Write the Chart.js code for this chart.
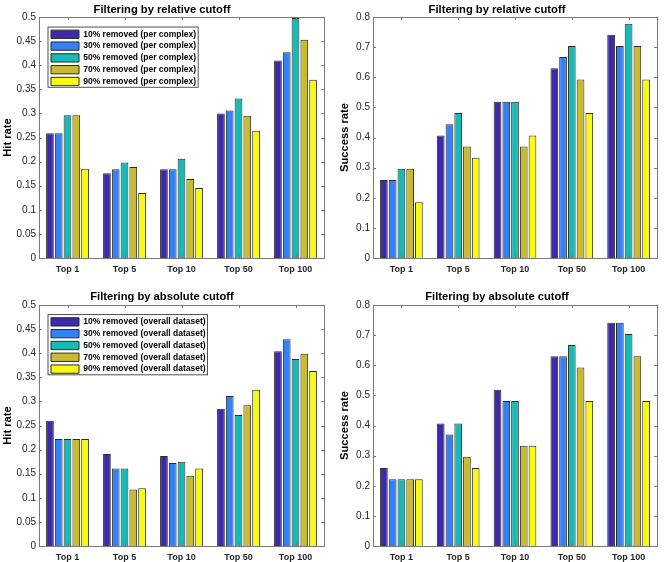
<!DOCTYPE html>
<html lang="en">
<head>
<meta charset="UTF-8">
<script src="https://cdn.jsdelivr.net/npm/chart.js"></script>
<title>Filtering by cutoff</title>
<style>
  body { margin: 0; background: #fff; }
  .cell { position: absolute; width: 332px; height: 281px; }
</style>
</head>
<body>
<div class="cell" style="left:0;top:0"><canvas id="relHitChart"></canvas></div>
<div class="cell" style="left:332px;top:0"><canvas id="relSuccessChart"></canvas></div>
<div class="cell" style="left:0;top:281px"><canvas id="absHitChart"></canvas></div>
<div class="cell" style="left:332px;top:281px"><canvas id="absSuccessChart"></canvas></div>
<script>
// data
const categories = ['Top 1', 'Top 5', 'Top 10', 'Top 50', 'Top 100'];
const removedLevels = ['10%', '30%', '50%', '70%', '90%'];
const colors = ['#3d2aa9', '#3381f5', '#17bab5', '#c8bb2e', '#f9f911'];

const hitTicks = [0, 0.05, 0.1, 0.15, 0.2, 0.25, 0.3, 0.35, 0.4, 0.45, 0.5];
const successTicks = [0, 0.1, 0.2, 0.3, 0.4, 0.5, 0.6, 0.7, 0.8];

// relative cutoff, hit rate
const relHit10 = [0.259, 0.176, 0.184, 0.300, 0.410];
const relHit30 = [0.259, 0.184, 0.184, 0.306, 0.427];
const relHit50 = [0.296, 0.198, 0.206, 0.331, 0.498];
const relHit70 = [0.296, 0.189, 0.164, 0.295, 0.453];
const relHit90 = [0.185, 0.135, 0.145, 0.264, 0.370];

// relative cutoff, success rate
const relSuccess10 = [0.259, 0.407, 0.519, 0.630, 0.741];
const relSuccess30 = [0.259, 0.444, 0.519, 0.667, 0.704];
const relSuccess50 = [0.296, 0.481, 0.519, 0.704, 0.778];
const relSuccess70 = [0.296, 0.370, 0.370, 0.593, 0.704];
const relSuccess90 = [0.185, 0.333, 0.407, 0.481, 0.593];

// absolute cutoff, hit rate
const absHit10 = [0.260, 0.191, 0.187, 0.285, 0.404];
const absHit30 = [0.222, 0.161, 0.172, 0.311, 0.429];
const absHit50 = [0.222, 0.161, 0.175, 0.272, 0.388];
const absHit70 = [0.222, 0.117, 0.146, 0.292, 0.399];
const absHit90 = [0.222, 0.120, 0.161, 0.324, 0.363];

// absolute cutoff, success rate
const absSuccess10 = [0.259, 0.407, 0.519, 0.630, 0.741];
const absSuccess30 = [0.222, 0.370, 0.481, 0.630, 0.741];
const absSuccess50 = [0.222, 0.407, 0.481, 0.667, 0.704];
const absSuccess70 = [0.222, 0.296, 0.333, 0.593, 0.630];
const absSuccess90 = [0.222, 0.259, 0.333, 0.481, 0.481];

const FONT = '"Liberation Sans", Arial, Helvetica, sans-serif';
const AXIS_COLOR = '#7a7a7a';
const TEXT_COLOR = '#262626';

// matlab style box with inward ticks, plus a framed legend
const boxPlugin = {
  id: 'matlabBox',
  afterLayout(chart) {
    const lg = chart.legend;
    const off = chart.options.plugins.matlabBox;
    if (lg && off) {
      const a = chart.chartArea;
      lg.left = a.left + off.legendX;
      lg.top = a.top + off.legendY;
      lg.bottom = a.bottom;
      lg.right = a.right;
    }
  },
  beforeDraw(chart) {
    const lg = chart.legend;
    if (!lg || !lg.options.display || !lg.legendHitBoxes || !lg.legendHitBoxes.length) return;
    const hb = lg.legendHitBoxes;
    let l = Infinity, t = Infinity, r = -Infinity, b = -Infinity;
    hb.forEach(h => {
      l = Math.min(l, h.left); t = Math.min(t, h.top);
      r = Math.max(r, h.left + h.width); b = Math.max(b, h.top + h.height);
    });
    const ctx = chart.ctx;
    ctx.save();
    ctx.fillStyle = '#fff';
    ctx.strokeStyle = '#262626';
    ctx.lineWidth = 0.8;
    ctx.fillRect(l - 3, t - 3, r - l + 5, b - t + 4.5);
    ctx.strokeRect(l - 3, t - 3, r - l + 5, b - t + 4.5);
    ctx.restore();
  },
  afterDatasetsDraw(chart) {
    const {ctx, chartArea: a, scales: {x, y}} = chart;
    const len = 3;
    ctx.save();
    ctx.strokeStyle = AXIS_COLOR;
    ctx.lineWidth = 1;
    ctx.beginPath();
    y.ticks.forEach(tk => {
      const py = Math.round(y.getPixelForValue(tk.value)) + 0.5;
      ctx.moveTo(a.left, py); ctx.lineTo(a.left + len, py);
      ctx.moveTo(a.right, py); ctx.lineTo(a.right - len, py);
    });
    x.ticks.forEach((tk, i) => {
      const px = Math.round(x.getPixelForTick(i)) + 0.5;
      ctx.moveTo(px, a.bottom); ctx.lineTo(px, a.bottom - len);
      ctx.moveTo(px, a.top); ctx.lineTo(px, a.top + len);
    });
    ctx.stroke();
    ctx.strokeRect(Math.round(a.left) + 0.5, Math.round(a.top) + 0.5,
      Math.round(a.right - a.left), Math.round(a.bottom - a.top));
    ctx.restore();
  }
};

function makeChart(id, series, suffix, o) {
  const datasets = series.map((vals, i) => ({
    label: removedLevels[i] + ' removed (' + suffix + ')',
    data: vals,
    backgroundColor: colors[i],
    borderColor: '#2b2b2b',
    borderWidth: 1,
    categoryPercentage: 0.77,
    barPercentage: 0.88
  }));
  return new Chart(document.getElementById(id), {
    type: 'bar',
    data: { labels: categories, datasets: datasets },
    plugins: [boxPlugin],
    options: {
      responsive: false,
      animation: false,
      layout: { padding: { left: o.padLeft, right: o.padRight, top: 0, bottom: o.padBottom } },
      plugins: {
        matlabBox: { legendX: 8.7, legendY: o.legendY },
        tooltip: { enabled: false },
        title: {
          display: true,
          text: o.title,
          color: '#000',
          font: { family: FONT, size: 11.2, weight: 'bold' },
          padding: { top: o.titleTop, bottom: o.titleBottom }
        },
        legend: {
          display: o.legend,
          position: 'chartArea',
          align: 'start',
          labels: {
            color: '#000',
            font: { family: FONT, size: 8.5, weight: 'bold' },
            boxWidth: 28,
            boxHeight: 8.3,
            padding: 3.3
          }
        }
      },
      scales: {
        x: {
          grid: { display: false, drawTicks: false },
          border: { display: false },
          afterFit(s) { s.height = 16; },
          ticks: {
            color: TEXT_COLOR,
            padding: 6.5,
            font: { family: FONT, size: 9, weight: 'bold' }
          }
        },
        y: {
          min: 0,
          max: o.ticks[o.ticks.length - 1],
          afterBuildTicks(s) { s.ticks = o.ticks.map(v => ({ value: v })); },
          afterFit(s) { s.width = o.yWidth; },
          grid: { display: false, drawTicks: false },
          border: { display: false },
          ticks: {
            color: TEXT_COLOR,
            padding: 3,
            font: { family: FONT, size: 10 },
            callback: v => String(Number(v.toFixed(2)))
          },
          title: {
            display: true,
            text: o.yTitle,
            color: '#000',
            font: { family: FONT, size: 11.2, weight: 'bold' },
            padding: { top: o.yTitleTop, bottom: 0 }
          }
        }
      }
    }
  });
}

function sizeCanvas(id) {
  const c = document.getElementById(id);
  c.width = 332; c.height = 281;
  c.style.width = '332px'; c.style.height = '281px';
}
['relHitChart', 'relSuccessChart', 'absHitChart', 'absSuccessChart'].forEach(sizeCanvas);

makeChart('relHitChart', [relHit10, relHit30, relHit50, relHit70, relHit90], 'per complex', {
  title: 'Filtering by relative cutoff', yTitle: 'Hit rate', ticks: hitTicks, legend: true, legendY: 9.7,
  padLeft: 0, padRight: 8, padBottom: 7, yWidth: 39, yTitleTop: 1.3, titleTop: 3.3, titleBottom: 0.3
});
makeChart('relSuccessChart', [relSuccess10, relSuccess30, relSuccess50, relSuccess70, relSuccess90], 'per complex', {
  title: 'Filtering by relative cutoff', yTitle: 'Success rate', ticks: successTicks, legend: false, legendY: 9.7,
  padLeft: 5, padRight: 7, padBottom: 7, yWidth: 36, yTitleTop: 1.6, titleTop: 3.3, titleBottom: 0.3
});
makeChart('absHitChart', [absHit10, absHit30, absHit50, absHit70, absHit90], 'overall dataset', {
  title: 'Filtering by absolute cutoff', yTitle: 'Hit rate', ticks: hitTicks, legend: true, legendY: 9.3,
  padLeft: 0, padRight: 8, padBottom: 0, yWidth: 39, yTitleTop: 1.3, titleTop: 9, titleBottom: 1.6
});
makeChart('absSuccessChart', [absSuccess10, absSuccess30, absSuccess50, absSuccess70, absSuccess90], 'overall dataset', {
  title: 'Filtering by absolute cutoff', yTitle: 'Success rate', ticks: successTicks, legend: false, legendY: 9.3,
  padLeft: 5, padRight: 7, padBottom: 0, yWidth: 36, yTitleTop: 1.6, titleTop: 9, titleBottom: 1.6
});
</script>
</body>
</html>
